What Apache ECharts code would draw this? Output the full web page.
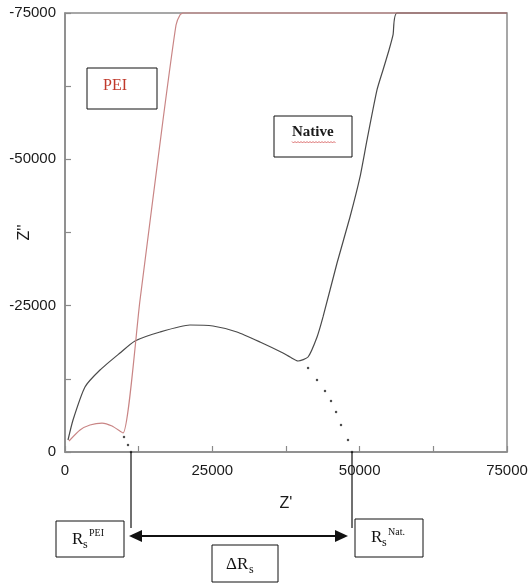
<!DOCTYPE html>
<html><head><meta charset="utf-8">
<script src="https://cdn.jsdelivr.net/npm/echarts@6/dist/echarts.min.js"></script>
<style>html,body{margin:0;padding:0;background:#fff}#c{width:531px;height:584px}</style>
</head><body><div id="c"></div>
<script>
// Native curve (Z', Z'')
const nativeZre = [510, 1360, 3390, 5940, 9330, 11880, 16120, 21210, 25110, 29180, 33090, 36990, 38180, 39540, 41240, 42770, 43780, 46160, 48360, 50060, 51250, 52940, 53960, 54980, 55660, 56340, 75000];
const nativeZim = [-2050, -5470, -11110, -14010, -16910, -18960, -20500, -21700, -21530, -20500, -18790, -16910, -16230, -15550, -16230, -19650, -23070, -32290, -40150, -46990, -53310, -61850, -65270, -68680, -71250, -75000, -75000];
// PEI curve
const peiZre = [680, 2550, 4240, 6280, 7980, 9840, 12730, 16630, 18840, 19510, 20020, 75000];
const peiZim = [-1880, -3760, -4610, -4950, -4440, -3250, -25970, -56720, -72950, -74660, -75000, -75000];
// dotted extrapolations
const nativeExtZre = [41240, 42760, 44120, 45140, 45990, 46830, 48020, 48700];
const nativeExtZim = [-14350, -12300, -10420, -8710, -6830, -4610, -2050, 0];
const peiExtZre = [10010, 10690, 11200];
const peiExtZim = [-2560, -1200, 0];
// Rs intercepts
const RsPEI = 11200;
const RsNat = 48700;
const xTickLabels = ['0', '25000', '50000', '75000'];
const yTickLabels = ['-75000', '-50000', '-25000', '0'];

const zip = (a, b) => a.map((v, i) => [v, b[i]]);
const chart = echarts.init(document.getElementById('c'), null, {renderer: 'canvas'});
const axisCol = '#8a8a8a';
const labelStyle = {color: '#1a1a1a', fontSize: 15, fontFamily: 'Liberation Sans, Arial, sans-serif'};

chart.setOption({
  animation: false,
  backgroundColor: '#fff',
  grid: {left: 65, right: 24, top: 13, bottom: 132, containLabel: false, outerBoundsMode: 'none',
         show: true, borderColor: axisCol, borderWidth: 1.5, backgroundColor: 'transparent'},
  xAxis: {
    type: 'value', min: 0, max: 75000, interval: 12500,
    name: "Z'", nameLocation: 'middle', nameGap: 44, nameMoveOverlap: false,
    nameTextStyle: {color: '#1a1a1a', fontSize: 16, fontFamily: 'Liberation Sans, Arial, sans-serif'},
    axisLine: {show: true, lineStyle: {color: axisCol, width: 1.5}},
    axisTick: {show: true, inside: true, length: 6, lineStyle: {color: axisCol, width: 1.2}},
    splitLine: {show: false},
    axisLabel: Object.assign({margin: 11, formatter: v => xTickLabels.includes(String(v)) ? String(v) : ''}, labelStyle)
  },
  yAxis: {
    type: 'value', min: -75000, max: 0, interval: 12500, inverse: true,
    name: "Z''", nameLocation: 'middle', nameGap: 32, nameRotate: 90, nameMoveOverlap: false,
    nameTextStyle: {color: '#1a1a1a', fontSize: 16, fontFamily: 'Liberation Sans, Arial, sans-serif'},
    axisLine: {show: true, lineStyle: {color: axisCol, width: 1.5}},
    axisTick: {show: true, inside: true, length: 6, lineStyle: {color: axisCol, width: 1.2}},
    splitLine: {show: false},
    axisLabel: Object.assign({margin: 9, formatter: v => yTickLabels.includes(String(v)) ? String(v) : ''}, labelStyle)
  },
  series: [
    {type: 'line', data: zip(peiZre, peiZim), showSymbol: false, smooth: 0.2, clip: false,
     lineStyle: {color: '#c98585', width: 1.2}, z: 3},
    {type: 'line', data: zip(nativeZre, nativeZim), showSymbol: false, smooth: 0.2, clip: false,
     lineStyle: {color: '#4a4a4a', width: 1.2}, z: 2},
    {type: 'scatter', data: zip(nativeExtZre, nativeExtZim), symbolSize: 2.5, itemStyle: {color: '#222'}},
    {type: 'scatter', data: zip(peiExtZre, peiExtZim), symbolSize: 2.5, itemStyle: {color: '#222'}}
  ]
});

const p1 = chart.convertToPixel({gridIndex: 0}, [RsPEI, 0]);
const p2 = chart.convertToPixel({gridIndex: 0}, [RsNat, 0]);
const x1 = p1[0], x2 = p2[0], y0 = p1[1];
const ay = 536;
const serif = 'Liberation Serif, DejaVu Serif, serif';

function box(x, y, w, h) {
  return {type: 'rect', shape: {x: x, y: y, width: w, height: h}, style: {fill: '#fff', stroke: '#111', lineWidth: 1}, z: 10};
}
function txt(x, y, s, size, color, weight) {
  return {type: 'text', x: x, y: y, z: 11, style: {text: s, fontSize: size, fontFamily: serif, fill: color || '#111', fontWeight: weight || 'normal', align: 'left', verticalAlign: 'middle'}};
}
// wavy underline for "Native"
const wave = [];
for (let x = 292, k = 0; x <= 336; x += 1.5, k++) wave.push([x, 142 + (k % 2 ? 1 : -0.5)]);

const g = [
  {type: 'line', shape: {x1: x1, y1: y0, x2: x1, y2: 528}, style: {stroke: '#111', lineWidth: 1.2}, z: 10},
  {type: 'line', shape: {x1: x2, y1: y0, x2: x2, y2: 528}, style: {stroke: '#111', lineWidth: 1.2}, z: 10},
  {type: 'line', shape: {x1: x1 + 8, y1: ay, x2: x2 - 8, y2: ay}, style: {stroke: '#111', lineWidth: 2}, z: 10},
  {type: 'polygon', shape: {points: [[x1 - 2, ay], [x1 + 11, ay - 6], [x1 + 11, ay + 6]]}, style: {fill: '#111'}, z: 10},
  {type: 'polygon', shape: {points: [[x2 - 4, ay], [x2 - 17, ay - 6], [x2 - 17, ay + 6]]}, style: {fill: '#111'}, z: 10},
  // PEI label box
  box(87, 68, 70, 41), txt(103, 86, 'PEI', 16, '#c0392b'),
  // Native label box
  box(274, 116, 78, 41), txt(292, 132, 'Native', 15, '#1a1a1a', 'bold'),
  {type: 'polyline', shape: {points: wave}, style: {stroke: '#d04a4a', lineWidth: 0.8, fill: null}, z: 11},
  // Rs PEI
  box(56, 521, 68, 36), txt(72, 540, 'R', 17), txt(83, 545, 's', 12), txt(89, 533, 'PEI', 10),
  // Rs Nat
  box(355, 519, 68, 38), txt(371, 538, 'R', 17), txt(382, 543, 's', 12), txt(388, 532, 'Nat.', 10),
  // Delta Rs
  box(212, 545, 66, 37), txt(226, 565, 'ΔR', 17), txt(249, 570, 's', 12)
];
chart.setOption({graphic: {elements: g}});
</script>
</body></html>
